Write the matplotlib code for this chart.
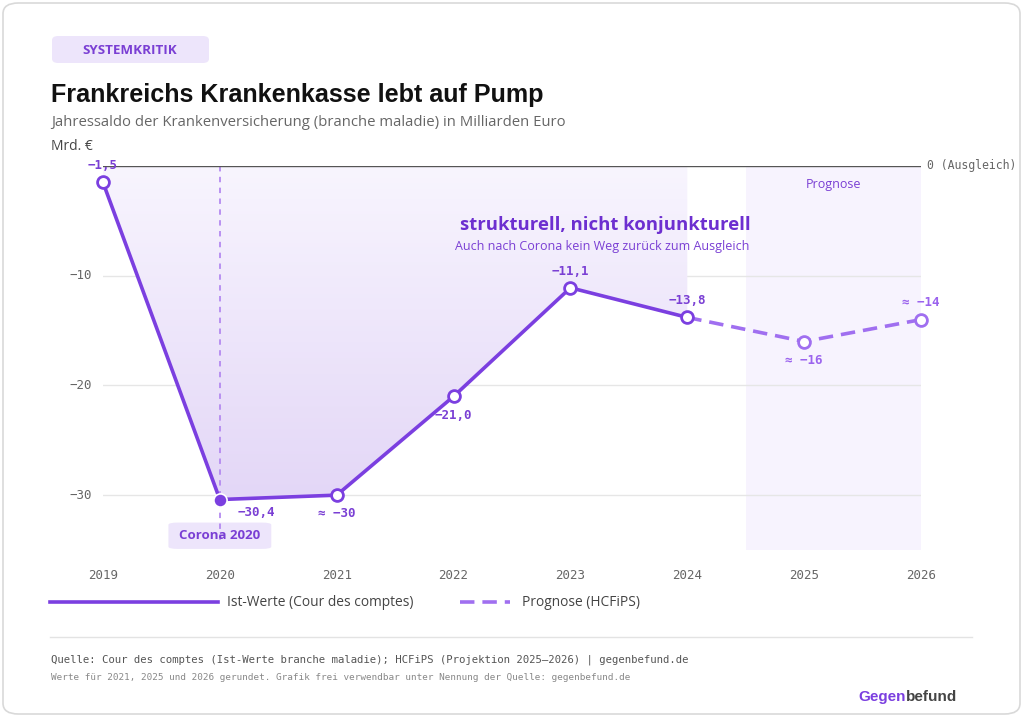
import matplotlib
matplotlib.use("Agg")
import matplotlib.pyplot as plt
import numpy as np
from matplotlib.patches import FancyBboxPatch, Rectangle
from matplotlib.colors import LinearSegmentedColormap

# ---- data ----
years_ist = [2019, 2020, 2021, 2022, 2023, 2024]
values_ist = [-1.5, -30.4, -30.0, -21.0, -11.1, -13.8]
years_prog = [2024, 2025, 2026]
values_prog = [-13.8, -16.0, -14.0]
all_years = [2019, 2020, 2021, 2022, 2023, 2024, 2025, 2026]
point_labels = ["\u22121,5", "\u221230,4", "\u2248 \u221230", "\u221221,0", "\u221211,1", "\u221213,8", "\u2248 \u221216", "\u2248 \u221214"]
yticks = [-10, -20, -30]
ytick_labels = ["\u221210", "\u221220", "\u221230"]

PURPLE = "#7b3fe0"
PURPLE_L = "#a06ff0"
TXT_P = "#7a3fd4"
GRAY = "#666666"
MONO = "DejaVu Sans Mono"
SANS = "Open Sans"

W, H = 1024, 717
fig = plt.figure(figsize=(W / 100, H / 100), dpi=100)
fig.patch.set_facecolor("white")

def fx(x): return x / W
def fy(y): return 1 - y / H

# card border
card = FancyBboxPatch((fx(3), fy(714)), fx(1017), (711) / H, boxstyle="round,pad=0,rounding_size=0.015",
                      transform=fig.transFigure, facecolor="white", edgecolor="#d9d9d9", lw=1.2, zorder=-10)
fig.patches.append(card)

# pill
pill = FancyBboxPatch((fx(52), fy(63)), fx(157), 27 / H, boxstyle="round,pad=0,rounding_size=0.006",
                      transform=fig.transFigure, facecolor="#ede5fb", edgecolor="none", zorder=-5)
fig.patches.append(pill)
fig.text(fx(130), fy(50), "SYSTEMKRITIK", ha="center", va="center", fontsize=9.6, fontweight="bold",
         color=TXT_P, family=SANS)

fig.text(fx(51), fy(95), "Frankreichs Krankenkasse lebt auf Pump", ha="left", va="center",
         fontsize=18.1, fontweight="bold", color="#111111", family="Liberation Sans")
fig.text(fx(51), fy(123), "Jahressaldo der Krankenversicherung (branche maladie) in Milliarden Euro",
         ha="left", va="center", fontsize=10.7, color=GRAY, family=SANS)
fig.text(fx(51), fy(147), "Mrd. \u20ac", ha="left", va="center", fontsize=10, color="#444444", family=SANS)

# axes
ax = fig.add_axes([fx(103), fy(550), (921 - 103) / W, (550 - 166) / H])
ax.set_zorder(1)
ax.patch.set_alpha(0)
ax.axis("off")

# prognosis region
ax.add_patch(Rectangle((2024.5, -35), 1.5, 35, facecolor="#f7f3fe", edgecolor="none", zorder=0))
ax.text(2025.25, -1.7, "Prognose", ha="center", va="center", fontsize=9, color=TXT_P, family=SANS)

# gridlines
for t, lab in zip(yticks, ytick_labels):
    ax.axhline(t, color="#e6e6e6", lw=1, zorder=1)
    ax.text(2018.905, t, lab, ha="right", va="center", fontsize=9, color=GRAY, family=MONO, clip_on=False)
ax.axhline(0, color="#555555", lw=1, zorder=3)
ax.text(2026.05, 0, "0 (Ausgleich)", ha="left", va="center", fontsize=8.3, color=GRAY, family=MONO, clip_on=False)

# gradient fill between 0 and line
poly = ax.fill_between(years_ist, values_ist, 0, facecolor="none", edgecolor="none")
grad = np.linspace(0, 1, 256).reshape(-1, 1)
cmap = LinearSegmentedColormap.from_list("g", ["#f8f5fe", "#e0d2f6"])
im = ax.imshow(grad, extent=[2019, 2024, -35, 0], origin="upper", aspect="auto", cmap=cmap, zorder=1.5)
im.set_clip_path(poly.get_paths()[0], transform=ax.transData)
ax.set_xlim(2019, 2026)
ax.set_ylim(-35, 0)

# corona line + box
cb = FancyBboxPatch((2019.56, -34.9), 0.88, 2.4, boxstyle="round,pad=0,rounding_size=0.08",
                    facecolor="#ede5fb", edgecolor="none", zorder=2.2, mutation_aspect=2.5)
ax.add_patch(cb)
ax.plot([2020, 2020], [0, -34.5], ls=(0, (3, 3)), color="#b48af0", lw=1.3, zorder=2.5, clip_on=False)
ax.text(2020.0, -33.7, "Corona 2020", ha="center", va="center", fontsize=9.5, fontweight="bold",
        color=TXT_P, family=SANS, zorder=3)

# lines
ax.plot(years_ist, values_ist, color=PURPLE, lw=2.6, zorder=4, clip_on=False, solid_capstyle="round")
ax.plot(years_prog, values_prog, color=PURPLE_L, lw=2.6, ls=(0, (4, 2.2)), zorder=4, clip_on=False)

# markers
for yr, v in zip(all_years, values_ist + values_prog[1:]):
    if yr == 2020:
        ax.plot(yr, v, "o", ms=9.5, mfc=PURPLE, mec="white", mew=1.2, zorder=6, clip_on=False)
    else:
        ec = PURPLE if yr <= 2024 else PURPLE_L
        ax.plot(yr, v, "o", ms=8.5, mfc="white", mec=ec, mew=2, zorder=6, clip_on=False)

# point labels (offsets in points)
offsets = [(0, 12), (26, -9), (0, -13), (0, -14), (0, 12), (0, 12), (0, -14), (0, 12)]
for yr, v, lab, off in zip(all_years, values_ist + values_prog[1:], point_labels, offsets):
    col = TXT_P if yr <= 2024 else "#9b63ee"
    ax.annotate(lab, (yr, v), xytext=off, textcoords="offset points", ha="center", va="center",
                fontsize=9, fontweight="bold", color=col, family=MONO, zorder=7, annotation_clip=False)

# annotation
ax.text(2023.3, -5.4, "strukturell, nicht konjunkturell", ha="center", va="center", fontsize=13.3,
        fontweight="bold", color="#6d2fd0", family=SANS)
ax.text(2023.27, -7.3, "Auch nach Corona kein Weg zur\u00fcck zum Ausgleich", ha="center", va="center",
        fontsize=9, color=TXT_P, family=SANS)

# x tick labels
for yr in all_years:
    ax.text(yr, -37.3, str(yr), ha="center", va="center", fontsize=9, color=GRAY, family=MONO, clip_on=False)

# legend
fig.add_artist(plt.Line2D([fx(50), fx(218)], [fy(602), fy(602)], color=PURPLE, lw=2.6))
fig.text(fx(227), fy(602), "Ist-Werte (Cour des comptes)", ha="left", va="center", fontsize=9.9,
         color="#444444", family=SANS)
fig.add_artist(plt.Line2D([fx(460), fx(510)], [fy(602), fy(602)], color=PURPLE_L, lw=2.6, ls=(0, (4, 2.2))))
fig.text(fx(522), fy(602), "Prognose (HCFiPS)", ha="left", va="center", fontsize=9.9,
         color="#444444", family=SANS)

# footer
fig.add_artist(plt.Line2D([fx(50), fx(972)], [fy(637), fy(637)], color="#e3e3e3", lw=1))
fig.text(fx(51), fy(660), "Quelle: Cour des comptes (Ist-Werte branche maladie); HCFiPS (Projektion 2025\u20132026) | gegenbefund.de",
         ha="left", va="center", fontsize=7.62, color="#555555", family=MONO)
fig.text(fx(51), fy(677), "Werte f\u00fcr 2021, 2025 und 2026 gerundet. Grafik frei verwendbar unter Nennung der Quelle: gegenbefund.de",
         ha="left", va="center", fontsize=6.75, color="#888888", family=MONO)
t1 = fig.text(fx(858), fy(697), "Gegen", ha="left", va="center", fontsize=11, fontweight="bold",
              color="#7b3fe0", family="Liberation Sans")
fig.canvas.draw()
bb = t1.get_window_extent()
fig.text(bb.x1 / W, fy(697), "befund", ha="left", va="center", fontsize=11, fontweight="bold",
         color="#444444", family="Liberation Sans")

fig.savefig("out.png", dpi=100, facecolor="white")
